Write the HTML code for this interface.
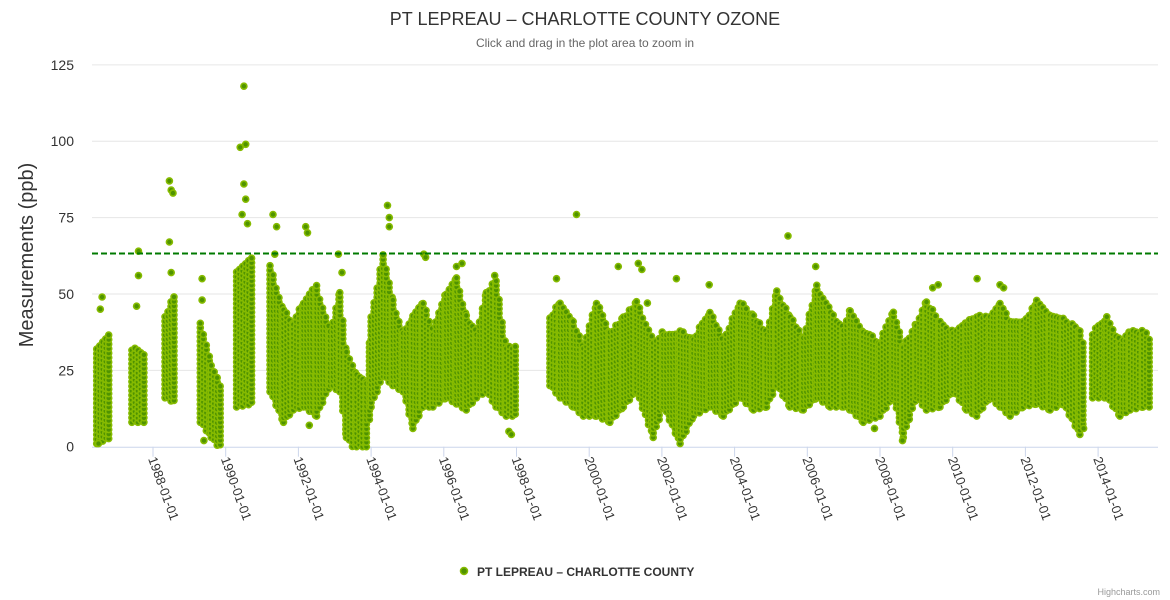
<!DOCTYPE html>
<html><head><meta charset="utf-8"><style>
html,body{margin:0;padding:0;background:#fff;}
svg{display:block;font-family:"Liberation Sans","DejaVu Sans",sans-serif;}
</style></head><body>
<svg id="chart" width="1170" height="600" viewBox="0 0 1170 600">
<text x="585" y="25" text-anchor="middle" font-size="18" fill="#333">PT LEPREAU – CHARLOTTE COUNTY OZONE</text>
<text x="585" y="47" text-anchor="middle" font-size="12" fill="#666">Click and drag in the plot area to zoom in</text>
<text transform="translate(33,255) rotate(-90)" text-anchor="middle" font-size="20" fill="#333">Measurements (ppb)</text>
<g id="grid"></g>
<g id="xaxis"></g>
<g id="plot"></g>
<line x1="92" x2="1158" y1="253.5" y2="253.5" stroke="#007a00" stroke-width="2" stroke-dasharray="6,3"/>
<g>
<circle cx="464" cy="571" r="3.5" fill="#4f9300" stroke="#86bb00" stroke-width="1.5"/>
<text x="477" y="576" font-size="12" font-weight="bold" fill="#333">PT LEPREAU – CHARLOTTE COUNTY</text>
</g>
<text x="1160" y="595" text-anchor="end" font-size="9" fill="#999">Highcharts.com</text>
</svg>
<script>
const yTicks=[0,25,50,75,100,125];
const xTickYears=[1988,1990,1992,1994,1996,1998,2000,2002,2004,2006,2008,2010,2012,2014];
const threshold=63;
const sampleYear=[1986.45,1986.85, 1987.42,1987.78, 1988.33,1988.66, 1989.3,1989.6,1989.93, 1990.3,1990.75,
1991.22,1991.59,1991.86,1992.14,1992.5,1992.87,1993.14,1993.32,1993.6,1993.87,1994.0,1994.33,1994.6,1994.88,1995.15,1995.43,1995.7,1996.07,1996.35,1996.62,1996.9,1997.17,1997.44,1997.72,1998.0,
1998.92,1999.2,1999.56,1999.84,2000.2,2000.57,2000.94,2001.3,2001.76,2002.04,2002.5,2002.87,2003.32,2003.69,2004.15,2004.52,2004.88,2005.16,2005.52,2005.89,2006.26,2006.63,2007.0,2007.18,2007.54,2008.0,2008.37,2008.64,2009.0,2009.28,2009.65,2010.02,2010.38,2010.66,2011.03,2011.3,2011.58,2011.94,2012.31,2012.68,2013.04,2013.5,2013.62,
2013.85,2014.24,2014.6,2014.88,2015.24,2015.47];
const sampleLo=[3,5, 10,10, 18,16, 10,5,0, 15,16,
20,10,14,15,12,22,20,5,0,2,15,25,22,20,8,15,15,18,16,14,18,20,15,12,12,
22,18,15,12,12,10,15,20,5,15,3,12,15,12,18,14,15,22,15,14,18,15,15,14,10,12,18,5,18,14,15,20,14,12,18,15,12,15,16,14,16,6,10,
18,18,12,14,15,15];
const sampleHi=[30,35, 30,28, 40,50, 38,25,15, 55,60,
57,42,38,45,50,35,48,28,22,18,40,60,45,35,40,45,35,48,53,40,35,48,52,30,30,
40,45,38,30,45,35,40,45,32,35,35,33,42,32,45,40,35,48,40,33,50,42,36,42,35,32,42,30,38,45,38,35,38,40,40,45,38,38,45,40,40,35,30,
35,40,32,35,35,33];
const sampleRun=[0,0, 1,1, 2,2, 3,3,3, 4,4,
5,5,5,5,5,5,5,5,5,5,5,5,5,5,5,5,5,5,5,5,5,5,5,5,5,
6,6,6,6,6,6,6,6,6,6,6,6,6,6,6,6,6,6,6,6,6,6,6,6,6,6,6,6,6,6,6,6,6,6,6,6,6,6,6,6,6,6,6,
7,7,7,7,7,7];
const outYear=[1986.6,1986.55,1986.5,1987.6,1987.6,1987.55,1988.45,1988.5,1988.55,1988.45,1988.5,1989.35,1989.35,1989.4,1990.5,1990.4,1990.55,1990.5,1990.55,1990.45,1990.6,1991.3,1991.4,1991.35,1992.2,1992.25,1992.3,1993.1,1993.2,1994.45,1994.5,1994.5,1995.45,1995.5,1996.35,1996.5,1997.4,1997.79,1997.86,1999.1,1999.65,2000.8,2001.35,2001.45,2001.6,2002.4,2003.3,2005.47,2006.23,2007.85,2008.62,2009.45,2009.6,2010.67,2011.3,2011.4,2013.6];
const outVal=[49,45,1,64,56,46,87,84,83,67,57,55,48,2,118,98,99,86,81,76,73,76,72,63,72,70,7,63,57,79,75,72,63,62,59,60,56,5,4,55,76,59,60,58,47,55,53,69,59,6,2,52,53,55,53,52,6];

const X0=92,X1=1158,Y0=446.7,PXV=3.055;
function xs(y){return 153+(y-1988)*36.35;}
function ys(v){return Y0-v*PXV;}
const NS='http://www.w3.org/2000/svg';
function mk(tag,attrs,parent){const e=document.createElementNS(NS,tag);for(const k in attrs)e.setAttribute(k,attrs[k]);parent.appendChild(e);return e;}
const grid=document.getElementById('grid'),xa=document.getElementById('xaxis'),plot=document.getElementById('plot');
yTicks.forEach(v=>{
  if(v>0){const l=mk('line',{x1:X0,x2:X1,y1:ys(v),y2:ys(v),stroke:'#e6e6e6','stroke-width':1},grid);
  
  }
  const t=mk('text',{x:74,y:ys(v)+5,'text-anchor':'end','font-size':14,fill:'#333'},grid);
  t.textContent=v;
  
  
});
const ax=mk('line',{x1:X0,x2:X1,y1:Y0+0.5,y2:Y0+0.5,stroke:'#ccd6eb','stroke-width':1},xa);


xTickYears.forEach(yr=>{
  const x=xs(yr);
  const tk=mk('line',{x1:x,x2:x,y1:Y0,y2:Y0+10,stroke:'#ccd6eb'},xa);
  
  
  const t=mk('text',{transform:`translate(${x-5},${Y0+12}) rotate(70)`,'font-size':13,fill:'#333'},xa);
  t.textContent=yr+'-01-01';
  
  
});
function dot(x,y){
  const c=mk('circle',{cx:x.toFixed(1),cy:y.toFixed(1),r:3,fill:'#4f9300',stroke:'#86bb00','stroke-width':1.6},plot);
  
  
}
for(let i=0;i<sampleYear.length-1;i++){
  if(sampleRun[i]!==sampleRun[i+1])continue;
  const xa0=xs(sampleYear[i]),xa1=xs(sampleYear[i+1]);
  let col=0;
  for(let x=xa0;x<xa1;x+=3,col++){
    const t=(x-xa0)/(xa1-xa0);
    const lo=Math.max(0,sampleLo[i]+(sampleLo[i+1]-sampleLo[i])*t-2);
    const hi=sampleHi[i]+(sampleHi[i+1]-sampleHi[i])*t+3;
    const yt=ys(hi),yb=ys(lo);
    for(let y=yb-(col%2)*2;y>=yt;y-=4.5){dot(x,y);}
  }
}
for(let i=0;i<outYear.length;i++){dot(xs(outYear[i]),ys(outVal[i]));}
</script>
</body></html>
